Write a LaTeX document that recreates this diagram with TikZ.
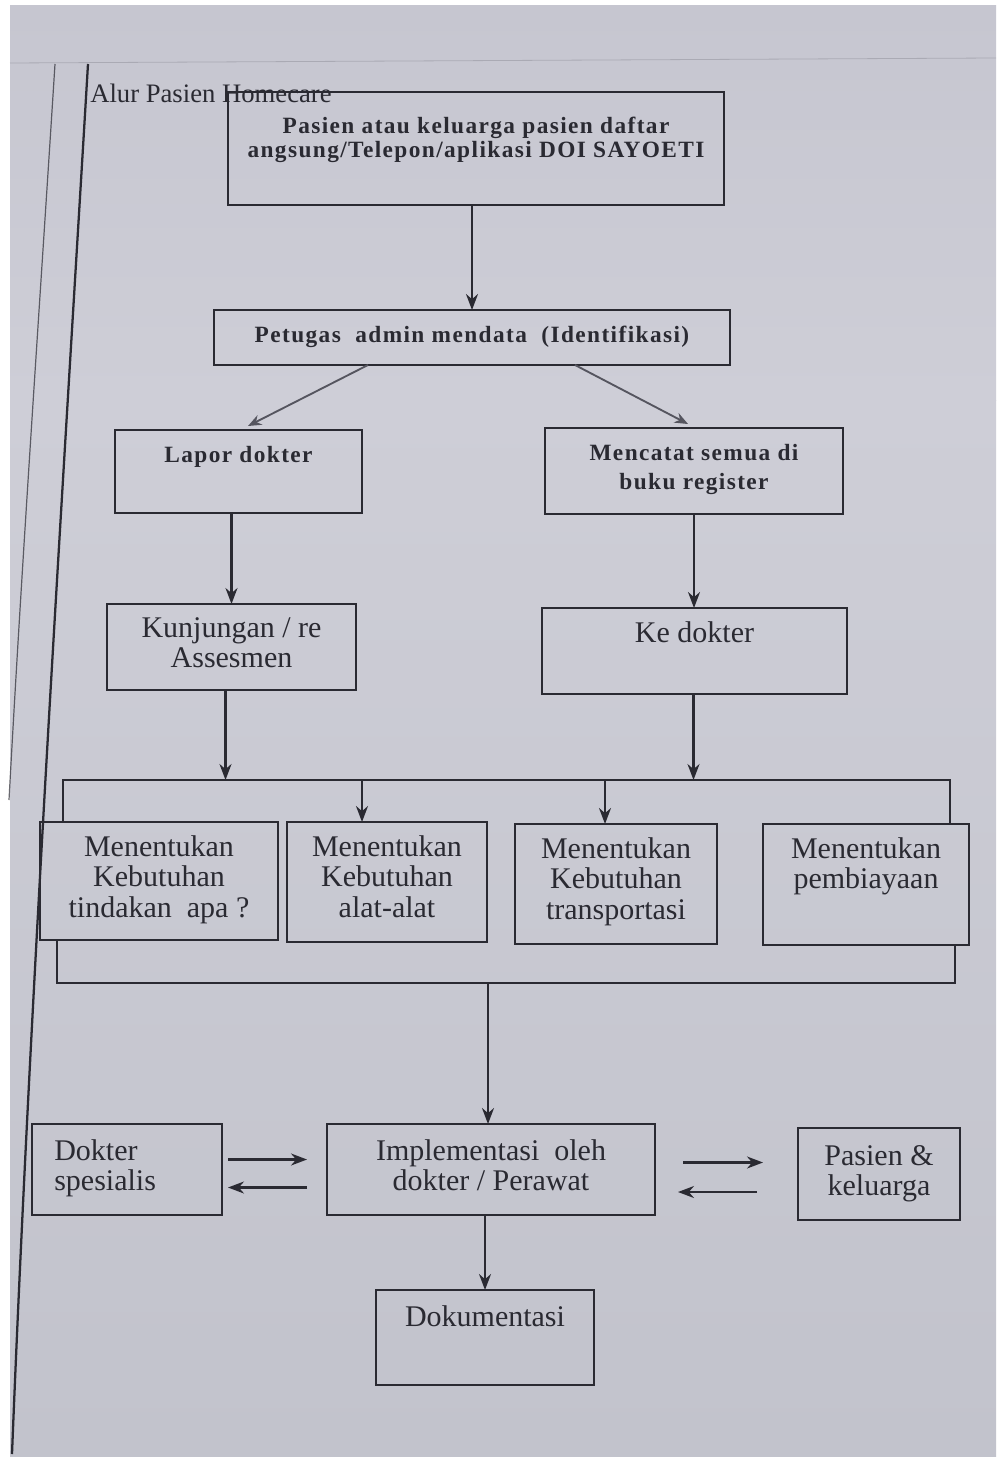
\documentclass[tikz,border=0pt]{standalone}
\usepackage{fontspec}
\setmainfont{Liberation Serif}
\newfontfamily\spacedfont[LetterSpace=6]{Liberation Serif}
\usetikzlibrary{arrows.meta,calc}
\definecolor{ink}{RGB}{42,42,50}
\definecolor{inkg}{RGB}{85,85,95}
\definecolor{pagetop}{RGB}{198,198,208}
\definecolor{pagemid}{RGB}{206,206,215}
\definecolor{pagebot}{RGB}{194,195,204}
\newcommand\mybox[8][]{%
  \node[box, minimum width={(#5-#3)*0.75pt}, minimum height={(#6-#4)*0.75pt}] (#2) at ({(#3+#5)/2},{(#4+#6)/2}) {};
  \node[txt, #1, anchor=north] (#2-t) at ([yshift={-#7*0.75pt}]#2.north) {#8};}
\begin{document}
\begin{tikzpicture}[x=0.75pt,y=-0.75pt,
  box/.style={draw=ink, line width=1.5pt, inner sep=0pt, outer sep=0pt},
  txt/.style={font=\fontsize{22.5}{23}\selectfont, align=center, text=ink, inner sep=0pt},
  toptxt/.style={font=\spacedfont\bfseries\fontsize{17.5}{17.5}\selectfont},
  arr/.style={-{Stealth[length=12pt,width=9pt]}, line width=1.6pt, draw=ink},
  arrg/.style={-{Stealth[length=10pt,width=8pt]}, line width=1.4pt, draw=inkg},
  bracket/.style={draw=ink, line width=1.5pt}]
\useasboundingbox (0,0) rectangle (998,1459);
\fill[white] (0,0) rectangle (998,1459);
\shade[top color=pagetop, bottom color=pagemid] (10,6) rectangle (996,400);
\shade[top color=pagemid, bottom color=pagebot] (10,400) rectangle (996,1456);
\draw[inkg, line width=0.6pt, opacity=0.25] (10,63) -- (996,58);
% page margin lines
\draw[ink, line width=0.9pt, opacity=0.7] (55,64) .. controls (40,300) and (22,560) .. (9,800);
\draw[ink, line width=1.7pt] (88,64) .. controls (62,500) and (30,1000) .. (12,1454);
% title
\node[font=\fontsize{20}{20}\selectfont, text=ink, anchor=west, inner sep=0pt] (title) at (90,93) {Alur Pasien Homecare};
% boxes
\mybox[toptxt]{top}{228}{92}{724}{205}{25}{Pasien atau keluarga pasien daftar\\angsung/Telepon/aplikasi DOI SAYOETI}
\mybox[toptxt]{pet}{214}{310}{730}{365}{16}{Petugas\ \ admin mendata\ \ (Identifikasi)}
\mybox[toptxt]{lap}{115}{430}{362}{513}{16}{Lapor dokter}
\mybox[toptxt, font=\spacedfont\bfseries\fontsize{17.5}{22}\selectfont]{men}{545}{428}{843}{514}{16}{Mencatat semua di\\buku register}
\mybox{kun}{107}{604}{356}{690}{13}{Kunjungan / re\\Assesmen}
\mybox{ke}{542}{608}{847}{694}{13}{Ke dokter}
\mybox{mA}{40}{822}{278}{940}{13}{Menentukan\\Kebutuhan\\tindakan\ \ apa ?}
\mybox{mB}{287}{822}{487}{942}{13}{Menentukan\\Kebutuhan\\alat-alat}
\mybox{mC}{515}{824}{717}{944}{13}{Menentukan\\Kebutuhan\\transportasi}
\mybox{mD}{763}{824}{969}{945}{13}{Menentukan\\pembiayaan}
\node[box, minimum width={190*0.75pt}, minimum height={91*0.75pt}] (ds) at (127,1169.5) {};
\node[txt, anchor=north west, align=left] (ds-t) at ($(ds.north west)+(22,15)$) {Dokter\\spesialis};
\mybox{impl}{327}{1124}{655}{1215}{15}{Implementasi\ \ oleh\\dokter / Perawat}
\mybox{pk}{798}{1128}{960}{1220}{17}{Pasien \&\\keluarga}
\mybox{doc}{376}{1290}{594}{1385}{15}{Dokumentasi}
% connectors
\draw[arr] (top.south -| 472,0) -- (pet.north -| 472,0);
\draw[arrg] ($(pet.south west)+(154,0)$) -- ($(lap.north west)+(133,-4)$);
\draw[arrg] ($(pet.south west)+(361,0)$) -- ($(men.north west)+(143,-4)$);
\draw[arr] (lap.south -| kun.north) -- (kun.north);
\draw[arr] (men.south) -- (men.south |- ke.north);
% top bracket
\coordinate (tl) at ($(mA.north west)+(23,-42)$);
\coordinate (tr) at ($(mD.north east)+(-19,-44)$);
\draw[bracket] ($(mA.north west)+(23,0)$) -- (tl) -- (tr) -- ($(mD.north east)+(-19,0)$);
\draw[arr] ($(kun.south)+(-6,0)$) -- ($(kun.south |- tl)+(-6,0)$);
\draw[arr] ($(ke.south)+(-1,0)$) -- ($(ke.south |- tl)+(-1,0)$);
\draw[arr] ($(tl)+(299,0)$) -- ($(mB.north west)+(75,0)$);
\draw[arr] ($(tl)+(542,0)$) -- ($(mC.north west)+(90,0)$);
% bottom bracket
\coordinate (bl) at ($(mA.south west)+(17,43)$);
\coordinate (br) at ($(mD.south east)+(-14,38)$);
\draw[bracket] ($(mA.south west)+(17,0)$) -- (bl) -- (br) -- ($(mD.south east)+(-14,0)$);
\draw[arr] ($(impl.north |- bl)+(-3,0)$) -- ($(impl.north)+(-3,0)$);
% side arrows
\draw[arr] ($(ds.east)+(6,-10)$) coordinate (la1) -- ($(impl.west |- la1)+(-20,0)$);
\draw[arr] ($(impl.west)+(-20,18)$) coordinate (la2) -- ($(ds.east |- la2)+(6,0)$);
\draw[arr] ($(impl.east)+(28,-7)$) coordinate (ra1) -- ($(pk.west |- ra1)+(-35,0)$);
\draw[arr] ($(pk.west)+(-41,18)$) coordinate (ra2) -- ($(impl.east |- ra2)+(23,0)$);
\draw[arr] (impl.south -| doc.north) -- (doc.north);
\end{tikzpicture}
\end{document}
